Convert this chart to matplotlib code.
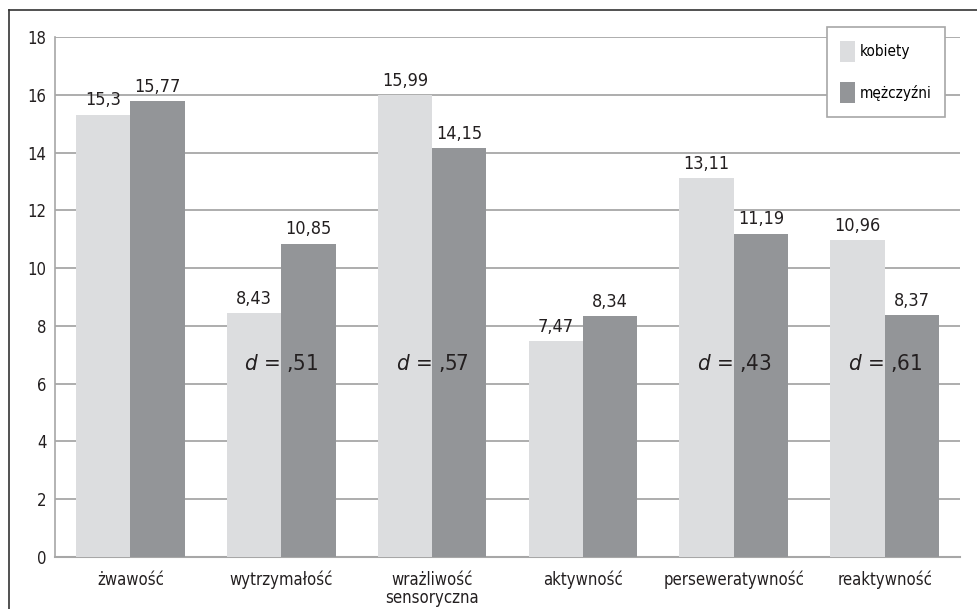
import numpy as np
import matplotlib
matplotlib.use('Agg')
import matplotlib.pyplot as plt
from matplotlib.lines import Line2D

plt.rcParams['font.family'] = ['DejaVu Sans']
plt.rcParams['font.stretch'] = 'condensed'

categories = ['żwawość', 'wytrzymałość', 'wrażliwość\nsensoryczna',
              'aktywność', 'perseweratywność', 'reaktywność']
kobiety = [15.3, 8.43, 15.99, 7.47, 13.11, 10.96]
mezczyzni = [15.77, 10.85, 14.15, 8.34, 11.19, 8.37]
d_labels = ['', ',51', ',57', '', ',43', ',61']

light = '#dcdddf'
dark = '#939598'
grid_col = '#a7a7a7'
txt = '#231f20'

fig = plt.figure(figsize=(9.78, 6.09), dpi=100)
ax = fig.add_axes([55/978, 1-557/609, 905/978, 520/609])

x = np.arange(len(categories))
w = 0.36
b1 = ax.bar(x - w/2, kobiety, w, color=light, label='kobiety', zorder=3)
b2 = ax.bar(x + w/2, mezczyzni, w, color=dark, label='mężczyźni', zorder=3)

for rects, vals in ((b1, kobiety), (b2, mezczyzni)):
    for r, v in zip(rects, vals):
        ax.annotate(str(v).replace('.', ','), (r.get_x() + r.get_width()/2, v),
                    xytext=(0, 4), textcoords='offset points',
                    ha='center', va='bottom', fontsize=13, color=txt, zorder=4)

for xi, lab in zip(x, d_labels):
    if lab:
        ax.text(xi, 6.7, r'$d$ = ' + lab, ha='center', va='center',
                fontsize=16, color=txt, zorder=4)

ax.set_xlim(-0.5, len(categories) - 0.5)
ax.set_ylim(0, 18)
ax.set_yticks(range(0, 19, 2))
ax.set_xticks(x)
ax.set_xticklabels(categories, fontsize=12, color=txt, linespacing=1.0)
ax.tick_params(axis='both', length=0, labelsize=12, colors=txt)
ax.tick_params(axis='y', pad=6)
ax.tick_params(axis='x', pad=10)
ax.yaxis.grid(True, color=grid_col, linewidth=1.3, zorder=0)
for s in ('top', 'right'):
    ax.spines[s].set_visible(False)
ax.spines['left'].set_color(grid_col)
ax.spines['bottom'].set_color(grid_col)
ax.spines['left'].set_linewidth(1.2)
ax.spines['bottom'].set_linewidth(1.5)

leg = ax.legend(loc='upper right', bbox_to_anchor=(945/978, 1-27/609),
                bbox_transform=fig.transFigure, borderaxespad=0, fontsize=11,
                handlelength=0.95, handleheight=1.75, labelspacing=1.33,
                borderpad=0.9, handletextpad=0.3, fancybox=False,
                edgecolor='#a7a7a7', framealpha=1)
leg.get_frame().set_linewidth(1.2)

# outer frame
fig.add_artist(Line2D([9/978, 9/978], [0, 1-10/609], color='#333333', linewidth=1.2))
fig.add_artist(Line2D([9/978, 1], [1-10/609, 1-10/609], color='#333333', linewidth=1.2))

fig.savefig('out.png', dpi=100)
